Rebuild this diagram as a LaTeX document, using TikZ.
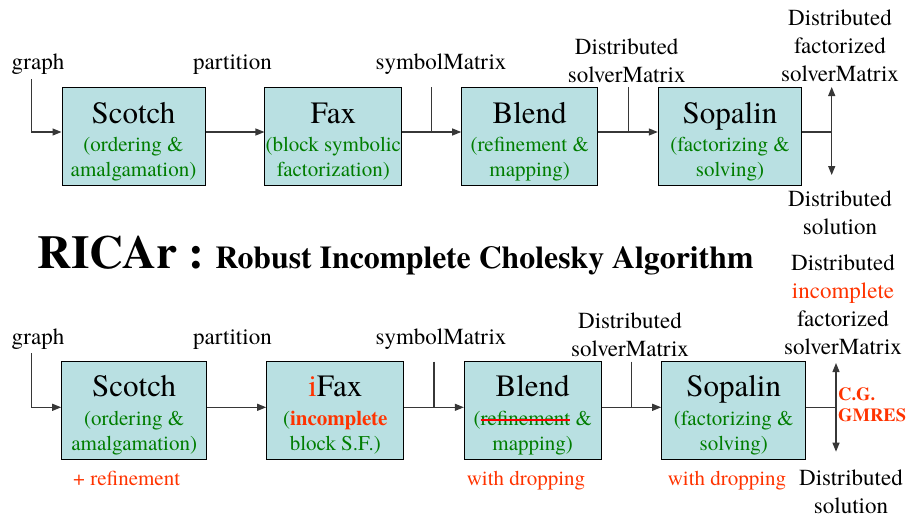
\documentclass[tikz,border=0pt]{standalone}
\usepackage{fontspec}
\setmainfont{texgyretermes}[Extension=.otf, UprightFont=*-regular, BoldFont=*-bold, ItalicFont=*-italic, BoldItalicFont=*-bolditalic]
\usetikzlibrary{arrows.meta,calc}
\definecolor{boxfill}{RGB}{185,224,226}
\definecolor{dgreen}{RGB}{0,125,0}
\definecolor{ored}{RGB}{255,51,0}
\definecolor{linegray}{RGB}{55,55,55}
\newcommand\redstrike[1]{\setbox0=\hbox{#1}\rlap{\copy0}\textcolor{red}{\rule[0.22em]{\wd0}{2pt}}}
\newcommand\stk[1]{\begin{tabular}[t]{@{}c@{}}#1\end{tabular}}
\tikzset{
  blk/.style={draw=black, line width=1pt, fill=boxfill, minimum width=#1, minimum height=98pt, inner sep=0pt},
  ttl/.style={font=\fontsize{31}{36}\selectfont, anchor=base, inner sep=0pt},
  sub/.style={font=\fontsize{21}{25}\selectfont, text=dgreen, anchor=base, inner sep=0pt},
  lbl/.style={font=\fontsize{23}{28}\selectfont, anchor=base, inner sep=0pt},
  rlbl/.style={font=\fontsize{21}{25}\selectfont, text=ored, anchor=base, inner sep=0pt},
  conn/.style={draw=linegray, line width=1.2pt},
  arr/.style={-{Triangle[length=9pt,width=7pt]}},
  darr/.style={{Triangle[length=9pt,width=7pt]}-{Triangle[length=9pt,width=7pt]}}
}
\begin{document}
\begin{tikzpicture}[x=1pt,y=-1pt]
\useasboundingbox (0,0) rectangle (917,517);

% ---------- top row ----------
\node[blk=143pt] (scotchA) at (133.5,136) {};
\node[blk=136.7pt] (faxA) at (333.3,136) {};
\node[blk=136pt] (blendA) at (529.7,136) {};
\node[blk=143.4pt] (sopA) at (730,136) {};

\node[ttl] (scotchAt) at ($(scotchA.center)+(0,-13)$) {Scotch};
\node[sub] (scotchAs) at ($(scotchA.center)+(0,15.5)$) {\stk{(ordering \&\\amalgamation)}};
\node[ttl] (faxAt) at ($(faxA.center)+(0,-13)$) {Fax};
\node[sub] (faxAs) at ($(faxA.center)+(0,15.5)$) {\stk{(block symbolic\\factorization)}};
\node[ttl] (blendAt) at ($(blendA.center)+(0,-13)$) {Blend};
\node[sub] (blendAs) at ($(blendA.center)+(0,15.5)$) {\stk{(refinement \&\\mapping)}};
\node[ttl] (sopAt) at ($(sopA.center)+(0,-13)$) {Sopalin};
\node[sub] (sopAs) at ($(sopA.center)+(0,15.5)$) {\stk{(factorizing \&\\solving)}};

\node[lbl] (graphA) at (38,69) {graph};
\node[lbl] (partA) at (232.5,69) {partition};
\node[lbl] (symA) at (441,69) {symbolMatrix};
\node[lbl] (dsmA) at (626.7,54.3) {\stk{Distributed\\solverMatrix}};
\node[lbl] (dfsA) at (840,25) {\stk{Distributed\\factorized\\solverMatrix}};
\node[lbl] (dsA) at (840,206) {\stk{Distributed\\solution}};

\coordinate (gA) at (31.7,79);
\coordinate (sA) at (431.7,87);
\coordinate (vA) at (628.3,87);
\coordinate (rA) at (831.7,132);
\coordinate (rAt) at (831.7,87);
\coordinate (rAb) at (831.7,175);

\draw[conn,arr] (gA) |- ([yshift=4pt]scotchA.west);
\draw[conn,arr] ([yshift=4pt]scotchA.east) -- ([yshift=4pt]faxA.west);
\draw[conn,arr] ([yshift=4pt]faxA.east) -- ([yshift=4pt]blendA.west);
\draw[conn] (sA) -- (sA |- rA);
\draw[conn,arr] ([yshift=4pt]blendA.east) -- ([yshift=4pt]sopA.west);
\draw[conn] (vA) -- (vA |- rA);
\draw[conn] ([yshift=4pt]sopA.east) -- (rA);
\draw[conn,darr] (rAt) -- (rAb);

% ---------- title ----------
\node[anchor=base west, inner sep=0pt, font=\bfseries] (title) at (37,268)
  {{\fontsize{47}{54}\selectfont RICAr :}\hspace{11pt}{\fontsize{31.8}{38}\selectfont Robust Incomplete Cholesky Algorithm}};

% ---------- bottom row ----------
\node[blk=145pt] (scotchB) at (134.2,410.8) {};
\node[blk=137.3pt] (faxB) at (335.3,410.8) {};
\node[blk=136.7pt] (blendB) at (532.7,410.8) {};
\node[blk=144pt] (sopB) at (733.7,410.8) {};

\node[ttl] (scotchBt) at ($(scotchB.center)+(0,-14.5)$) {Scotch};
\node[sub] (scotchBs) at ($(scotchB.center)+(0,14.5)$) {\stk{(ordering \&\\amalgamation)}};
\node[ttl] (faxBt) at ($(faxB.center)+(0,-14.5)$) {\textcolor{ored}{i}Fax};
\node[sub] (faxBs) at ($(faxB.center)+(0,14.5)$) {\stk{(\textcolor{ored}{\textbf{incomplete}}\\block S.F.)}};
\node[ttl] (blendBt) at ($(blendB.center)+(0,-14.5)$) {Blend};
\node[sub] (blendBs) at ($(blendB.center)+(0,14.5)$) {\stk{(\redstrike{refinement} \&\\mapping)}};
\node[ttl] (sopBt) at ($(sopB.center)+(0,-14.5)$) {Sopalin};
\node[sub] (sopBs) at ($(sopB.center)+(0,14.5)$) {\stk{(factorizing \&\\solving)}};

\node[lbl] (graphB) at (38,344) {graph};
\node[lbl] (partB) at (232.5,344) {partition};
\node[lbl] (symB) at (441,344) {symbolMatrix};
\node[lbl] (dsmB) at (630,328.3) {\stk{Distributed\\solverMatrix}};
\node[lbl] (dfsB) at (843,270) {\stk{Distributed\\\textcolor{ored}{incomplete}\\factorized\\solverMatrix}};
\node[lbl] (dsB) at (851,485) {\stk{Distributed\\solution}};

\node[rlbl] (refB) at (126.7,485) {+ refinement};
\node[rlbl] (wd1) at (526,485) {with dropping};
\node[rlbl] (wd2) at (727,485) {with dropping};
\node[anchor=base west, inner sep=0pt, font=\fontsize{18.5}{21.7}\selectfont\bfseries, text=ored] (cg) at (838,400) {\begin{tabular}[t]{@{}l@{}}C.G.\\GMRES\end{tabular}};

\coordinate (gB) at (31.7,353);
\coordinate (sB) at (434,361.7);
\coordinate (vB) at (631.7,361.7);
\coordinate (rB) at (836,407.3);
\coordinate (rBt) at (836,363);
\coordinate (rBb) at (836,451.7);

\draw[conn,arr] (gB) |- ([yshift=3.5pt]scotchB.west);
\draw[conn,arr] ([yshift=3.5pt]scotchB.east) -- ([yshift=3.5pt]faxB.west);
\draw[conn,arr] ([yshift=3.5pt]faxB.east) -- ([yshift=3.5pt]blendB.west);
\draw[conn] (sB) -- (sB |- rB);
\draw[conn,arr] ([yshift=3.5pt]blendB.east) -- ([yshift=3.5pt]sopB.west);
\draw[conn] (vB) -- (vB |- rB);
\draw[conn] ([yshift=3.5pt]sopB.east) -- (rB);
\draw[conn,darr] (rBt) -- (rBb);
\end{tikzpicture}
\end{document}
